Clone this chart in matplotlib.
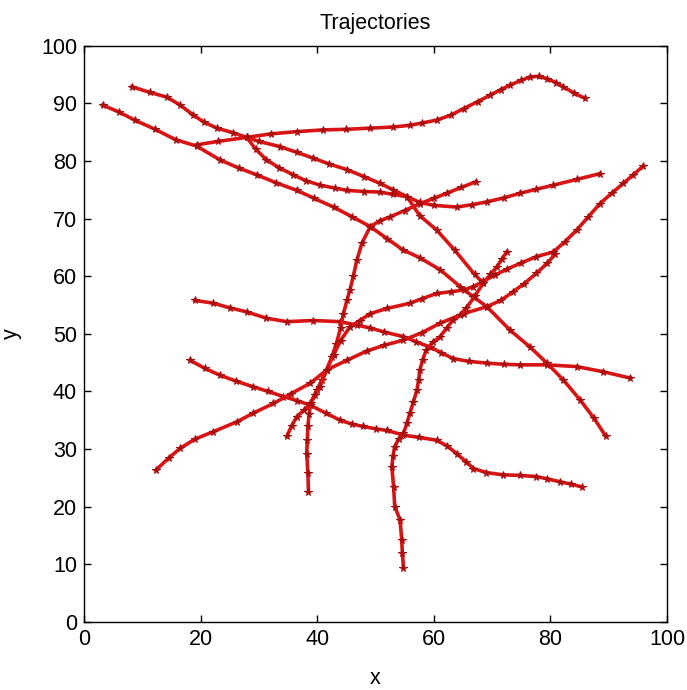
import numpy as np
import matplotlib
matplotlib.use("Agg")
import matplotlib.pyplot as plt

plt.rcParams['font.family'] = ['Liberation Sans', 'DejaVu Sans']

# sampled (x, y) positions of each track
t1_x = [8.2, 11.3, 14.2, 16.5, 18.7, 20.5, 22.8, 25.6, 27.9, 30.0, 33.6, 36.5, 39.3, 42.0, 45.1, 48.0,
        50.8, 53.0, 55.4, 57.6, 60.5, 63.6, 67.0, 68.5]
t1_y = [92.9, 91.9, 91.1, 89.7, 88.0, 86.8, 85.7, 84.9, 84.1, 83.4, 82.5, 81.5, 80.5, 79.5, 78.5, 77.3,
        76.1, 75.0, 73.8, 70.5, 68.0, 64.5, 60.3, 58.8]

t2_x = [3.2, 6.0, 8.7, 12.2, 15.7, 19.3, 23.3, 26.5, 29.6, 33.0, 36.5, 39.5, 42.8, 46.0, 49.1, 52.0,
        54.8, 57.6, 61.1, 64.5, 66.8, 69.1, 73.1, 76.5, 79.4, 82.2, 85.1, 87.5, 89.5]
t2_y = [89.7, 88.5, 87.1, 85.5, 83.7, 82.6, 80.2, 78.8, 77.6, 76.2, 74.9, 73.5, 72.0, 70.3, 68.6, 66.5,
        64.5, 63.2, 61.1, 58.2, 56.4, 54.7, 50.6, 47.7, 44.9, 42.0, 38.5, 35.3, 32.2]

t3_x = [19.3, 23.0, 27.9, 32.0, 36.5, 41.0, 45.0, 49.0, 53.0, 55.9, 58.0, 60.5, 63.0, 65.1, 67.5, 69.6,
        71.5, 73.1, 75.0, 76.5, 78.0, 79.4, 81.0, 82.2, 84.0, 85.9]
t3_y = [82.8, 83.4, 84.1, 84.7, 85.1, 85.4, 85.5, 85.7, 85.9, 86.2, 86.6, 87.1, 88.0, 89.1, 90.3, 91.4,
        92.4, 93.2, 94.0, 94.6, 94.7, 94.3, 93.6, 92.9, 91.8, 90.9]

t4_x = [27.9, 29.5, 31.3, 33.5, 35.9, 38.0, 40.5, 43.0, 45.1, 48.0, 50.8, 53.0, 55.4, 57.6, 60.0, 63.9,
        66.5, 69.1, 72.0, 74.8, 77.6, 80.5, 84.5, 88.5]
t4_y = [84.1, 82.0, 80.2, 78.8, 77.6, 76.6, 75.8, 75.3, 74.9, 74.7, 74.6, 74.2, 73.8, 72.8, 72.3, 72.0,
        72.4, 72.9, 73.6, 74.4, 75.1, 75.8, 76.8, 77.8]

t5_x = [19.0, 22.2, 25.0, 27.9, 31.3, 34.8, 39.3, 43.9, 46.8, 49.1, 51.5, 54.8, 57.0, 59.3, 61.3, 63.3,
        66.0, 69.1, 72.0, 74.8, 79.4, 84.5, 89.1, 93.7]
t5_y = [55.8, 55.3, 54.5, 53.8, 52.7, 52.1, 52.3, 52.1, 51.5, 51.0, 50.3, 49.5, 48.6, 47.7, 46.7, 45.7,
        45.2, 44.9, 44.7, 44.6, 44.6, 44.3, 43.4, 42.3]

t6_x = [18.2, 20.7, 23.3, 26.0, 29.0, 31.5, 34.2, 36.5, 38.8, 41.5, 43.9, 46.0, 47.9, 50.0, 52.0, 54.8,
        57.5, 60.5, 62.3, 63.9, 65.5, 66.8, 69.0, 71.9, 74.8, 77.6, 79.5, 81.6, 83.5, 85.4]
t6_y = [45.4, 44.0, 42.8, 41.8, 40.8, 40.0, 39.1, 38.4, 37.6, 36.2, 35.0, 34.3, 33.9, 33.5, 33.2, 32.4,
        32.0, 31.5, 30.5, 29.2, 27.8, 26.6, 25.9, 25.5, 25.4, 25.2, 24.8, 24.3, 23.9, 23.4]

t7_x = [38.5, 38.4, 38.2, 38.3, 38.4, 38.6, 38.9, 39.9, 40.8, 41.6, 42.5, 43.3, 44.0, 44.5, 45.1, 45.6,
        46.2, 46.8, 47.7, 49.1, 50.7, 52.5, 55.0, 57.6, 60.0, 62.2, 64.7, 67.2]
t7_y = [22.5, 25.8, 29.2, 31.5, 33.9, 36.0, 38.0, 40.2, 42.0, 43.7, 46.0, 48.3, 51.0, 53.5, 55.8, 57.6,
        60.0, 62.8, 65.8, 68.6, 69.6, 70.3, 71.4, 72.6, 73.5, 74.4, 75.4, 76.4]

t8_x = [34.8, 35.6, 36.5, 37.8, 38.8, 39.7, 40.5, 41.6, 42.8, 44.0, 45.6, 47.3, 49.1, 52.0, 55.9, 58.0,
        60.5, 63.0, 65.1, 66.8, 68.5, 70.5, 72.5, 75.0, 77.6, 80.5, 82.5, 84.5, 86.5, 88.5, 90.5, 92.5,
        94.2, 95.9]
t8_y = [32.2, 34.0, 35.6, 36.8, 37.9, 39.3, 40.8, 43.7, 46.3, 48.8, 51.2, 52.3, 53.5, 54.4, 55.3, 56.1,
        57.0, 57.3, 57.6, 58.2, 59.1, 60.2, 61.2, 62.3, 63.4, 64.2, 66.0, 68.0, 70.3, 72.6, 74.4, 76.1,
        77.6, 79.1]

t9_x = [12.3, 14.5, 16.5, 19.0, 22.2, 26.2, 29.0, 32.5, 35.5, 38.8, 41.6, 45.1, 48.5, 51.5, 54.8, 58.0,
        61.0, 65.1, 69.1, 71.5, 73.6, 75.5, 77.6, 79.4, 80.8]
t9_y = [26.3, 28.4, 30.1, 31.7, 33.0, 34.7, 36.2, 37.9, 39.6, 41.4, 43.7, 45.4, 47.0, 48.0, 48.9, 50.2,
        51.8, 53.5, 54.7, 55.8, 57.3, 58.7, 60.5, 62.2, 63.8]

t10_x = [54.8, 54.6, 54.5, 54.2, 53.3, 53.1, 52.8, 53.0, 53.3, 54.0, 54.8, 55.4, 55.9, 56.5, 57.1, 57.4,
         57.6, 58.1, 58.7, 59.8, 61.1, 62.2, 63.3, 64.5, 65.6, 67.0, 68.5, 69.7, 70.8, 71.7, 72.5]
t10_y = [9.3, 12.0, 14.2, 17.7, 20.0, 23.4, 26.9, 28.8, 30.4, 31.8, 32.7, 34.5, 36.2, 38.2, 40.2, 42.0,
         43.7, 45.5, 47.2, 48.5, 49.5, 51.0, 52.4, 53.3, 54.5, 56.5, 58.8, 60.3, 61.6, 63.0, 64.2]

tracks = [(t1_x, t1_y), (t2_x, t2_y), (t3_x, t3_y), (t4_x, t4_y), (t5_x, t5_y),
          (t6_x, t6_y), (t7_x, t7_y), (t8_x, t8_y), (t9_x, t9_y), (t10_x, t10_y)]

fig = plt.figure(figsize=(6.87, 6.90), dpi=100)
ax = fig.add_axes([0.1223, 0.099, 0.8486, 0.8346])

for xs, ys in tracks:
    ax.plot(xs, ys, '-', color='#d81414', linewidth=2.6, marker='*', markersize=5.5,
            markerfacecolor='#a81010', markeredgecolor='#a81010', markeredgewidth=0.8)

ax.set_xlim(0, 100)
ax.set_ylim(0, 100)
ax.set_xticks(np.arange(0, 101, 20))
ax.set_yticks(np.arange(0, 101, 10))
ax.tick_params(direction='in', top=True, right=True, length=5, width=1,
               labelsize=15.5, pad=5, colors='black')
for sp in ax.spines.values():
    sp.set_linewidth(1.0)

ax.set_title('Trajectories', fontsize=15.5, pad=12)
ax.set_xlabel('x', fontsize=15.5, labelpad=13)
ax.set_ylabel('y', fontsize=15.5, labelpad=14)

fig.savefig('out.png', dpi=100)
